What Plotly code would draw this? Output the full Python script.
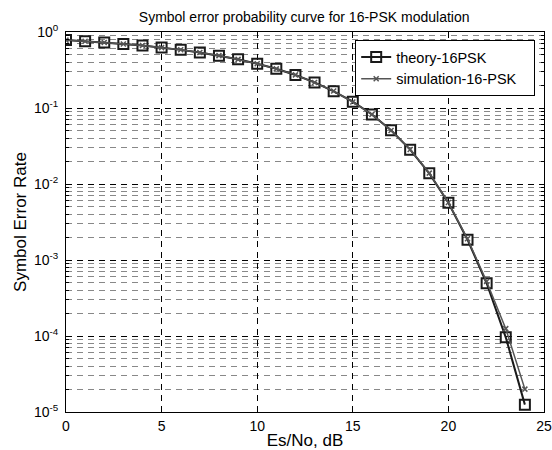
import plotly.graph_objects as go

snr_db = list(range(0, 25))
theory_ser = [0.783, 0.757, 0.728, 0.697, 0.662, 0.624, 0.582, 0.537, 0.488, 0.437,
              0.382, 0.328, 0.272, 0.217, 0.166, 0.121, 0.0821, 0.0510, 0.0283, 0.0138,
              0.00567, 0.00185, 0.000494, 0.000096, 0.0000125]
sim_ser = [0.782, 0.756, 0.729, 0.696, 0.663, 0.623, 0.583, 0.536, 0.489, 0.436,
           0.383, 0.327, 0.273, 0.216, 0.167, 0.120, 0.0825, 0.0507, 0.0285, 0.0139,
           0.00570, 0.00190, 0.000520, 0.000125, 0.000020]

y_major = [1e-5, 1e-4, 1e-3, 1e-2, 1e-1, 1]
y_major_text = ["10<sup>-5</sup>", "10<sup>-4</sup>", "10<sup>-3</sup>", "10<sup>-2</sup>",
                "10<sup>-1</sup>", "10<sup>0</sup>"]
y_minor = [m * 10 ** e for e in range(-5, 0) for m in range(2, 10)]
x_ticks = [0, 5, 10, 15, 20, 25]

font = "Liberation Sans, Arial, sans-serif"

fig = go.Figure()
fig.add_trace(go.Scatter(
    x=snr_db, y=theory_ser, name="theory-16PSK", mode="lines+markers",
    line=dict(color="#1a1a1a", width=2),
    marker=dict(symbol="square-open", size=10, color="#1a1a1a", line=dict(width=2)),
))
fig.add_trace(go.Scatter(
    x=snr_db, y=sim_ser, name="simulation-16-PSK   ", mode="lines+markers",
    line=dict(color="#555555", width=1.5),
    marker=dict(symbol="x-thin-open", size=5, color="#555555", line=dict(width=1.5)),
))

fig.update_layout(
    width=552, height=450,
    margin=dict(l=66, r=8, t=32, b=38),
    paper_bgcolor="white", plot_bgcolor="white",
    font=dict(family=font, size=14, color="black"),
    title=dict(text="Symbol error probability curve for 16-PSK modulation",
               x=0.551, xanchor="center", y=0.962, yanchor="middle",
               font=dict(size=14)),
    showlegend=True,
    legend=dict(x=0.605, y=0.979, xanchor="left", yanchor="top",
                bgcolor="white", bordercolor="black", borderwidth=1,
                font=dict(size=14.5), tracegroupgap=0),
)
fig.update_xaxes(
    range=[0, 25], tickvals=x_ticks, showline=True, linecolor="black", linewidth=1,
    mirror="allticks", ticks="inside", ticklen=5, tickcolor="black",
    ticklabelstandoff=1, tickfont=dict(size=14), automargin=False,
    showgrid=True, gridcolor="black", griddash="6px,5px", gridwidth=1,
    zeroline=False, title=dict(text="Es/No, dB", standoff=8),
)
fig.update_yaxes(
    type="log", range=[-5, 0], tickvals=y_major, ticktext=y_major_text,
    showline=True, linecolor="black", linewidth=1,
    mirror="allticks", ticks="inside", ticklen=5, tickcolor="black",
    ticklabelstandoff=4, tickfont=dict(size=14), automargin=False,
    showgrid=True, gridcolor="black", griddash="6px,5px", gridwidth=1,
    zeroline=False, title=dict(text="Symbol Error Rate", standoff=2),
    minor=dict(tickvals=y_minor, ticks="inside", ticklen=3, tickcolor="black",
               showgrid=True, gridcolor="#888888", griddash="6px,5px", gridwidth=1),
)

fig.write_html("out.html")
